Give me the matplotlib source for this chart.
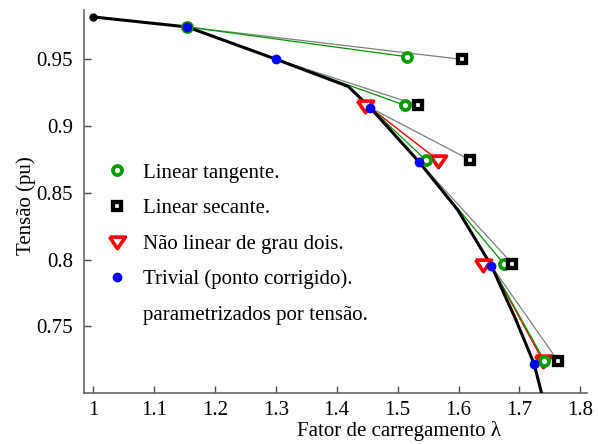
import matplotlib
matplotlib.use("Agg")
import matplotlib.pyplot as plt
from matplotlib.lines import Line2D
from matplotlib.markers import MarkerStyle

plt.rcParams['font.family'] = ['Liberation Serif', 'DejaVu Serif']

# ---- data ----
curve_lambda = [1.000, 1.1545, 1.301, 1.419, 1.455, 1.535, 1.599, 1.654, 1.6945, 1.724, 1.738]
curve_v = [0.9818, 0.9743, 0.950, 0.9297, 0.9138, 0.8733, 0.837, 0.7953, 0.7546, 0.722, 0.697]

start_lambda = [1.000]
start_v = [0.9818]

# corrected points (trivial)
corr_lambda = [1.1545, 1.301, 1.455, 1.535, 1.654, 1.724]
corr_v = [0.9743, 0.950, 0.9138, 0.8733, 0.7953, 0.722]

# all base points (initial + corrected)
base_lambda = start_lambda + corr_lambda
base_v = start_v + corr_v

# linear tangent predictions, source index into base points
tan_lambda = [1.1545, 1.515, 1.512, 1.546, 1.674, 1.741]
tan_v = [0.9743, 0.952, 0.9156, 0.8746, 0.797, 0.7243]
tan_src = [0, 1, 2, 3, 4, 5]

# linear secant predictions
sec_lambda = [1.606, 1.534, 1.619, 1.688, 1.763]
sec_v = [0.950, 0.9156, 0.8746, 0.797, 0.7243]
sec_src = [1, 2, 3, 4, 5]

# quadratic predictions
quad_lambda = [1.446, 1.566, 1.640, 1.738]
quad_v = [0.9158, 0.8746, 0.797, 0.7246]
quad_src = [None, 3, None, 5]

labels = ["Linear tangente.", "Linear secante.", "Não linear de grau dois.",
          "Trivial (ponto corrigido).", "parametrizados por tensão."]

xticks = [1, 1.1, 1.2, 1.3, 1.4, 1.5, 1.6, 1.7, 1.8]
xticklabels = ["1", "1.1", "1.2", "1.3", "1.4", "1.5", "1.6", "1.7", "1.8"]
yticks = [0.75, 0.8, 0.85, 0.9, 0.95]
yticklabels = ["0.75", "0.8", "0.85", "0.9", "0.95"]

GREEN = (0, 0.6, 0)
FS = 15
TRI = MarkerStyle([(-1, 0.55), (1, 0.55), (0, -0.9), (-1, 0.55)], joinstyle='miter')

fig = plt.figure(figsize=(5.98, 4.44), dpi=100)
ax = fig.add_axes([84/598, 1-393/444, (587-84)/598, (393-10)/444])

# predictor segments
for lx, vy, s in zip(sec_lambda, sec_v, sec_src):
    ax.plot([base_lambda[s], lx], [base_v[s], vy], color='0.5', lw=0.9, zorder=2)
for lx, vy, s in zip(quad_lambda, quad_v, quad_src):
    if s is not None:
        ax.plot([base_lambda[s], lx], [base_v[s], vy], color='red', lw=1.0, zorder=2)
for lx, vy, s in zip(tan_lambda, tan_v, tan_src):
    ax.plot([base_lambda[s], lx], [base_v[s], vy], color=GREEN, lw=0.9, zorder=2.5)

ax.plot(curve_lambda, curve_v, color='black', lw=2.2, zorder=3)
ax.plot(start_lambda, start_v, 'o', color='black', ms=5, zorder=4)

h_quad, = ax.plot(quad_lambda, quad_v, marker=TRI, ls='none', mfc='white', mec='red',
                  ms=11.5, mew=2.6, zorder=5)
h_tan, = ax.plot(tan_lambda, tan_v, 'o', ls='none', mfc='white', mec=GREEN,
                 ms=6.5, mew=2.7, zorder=6)
h_sec, = ax.plot(sec_lambda, sec_v, 's', ls='none', mfc='white', mec='black',
                 ms=6.2, mew=3.1, zorder=7)
h_cor, = ax.plot(corr_lambda, corr_v, 'o', ls='none', color='blue', ms=6, zorder=8)
h_blank = Line2D([], [], ls='none', marker='none')

leg = ax.legend([h_tan, h_sec, h_quad, h_cor, h_blank], labels, loc='upper left',
                bbox_to_anchor=(0.045, 0.600), frameon=False, fontsize=FS,
                handlelength=1.0, handletextpad=0.75, labelspacing=0.76,
                borderpad=0, borderaxespad=0)

ax.set_xlim(0.985, 1.811)
ax.set_ylim(0.7, 0.987)
ax.set_xticks(xticks)
ax.set_xticklabels(xticklabels)
ax.set_yticks(yticks)
ax.set_yticklabels(yticklabels)
ax.tick_params(direction='in', length=5, width=1, labelsize=FS, color='0.3')
ax.tick_params(axis='x', pad=6)
ax.tick_params(axis='y', pad=8)
for lab in ax.get_xticklabels() + ax.get_yticklabels():
    lab.set_fontfamily(['Liberation Serif', 'DejaVu Serif'])
for side in ['top', 'right']:
    ax.spines[side].set_visible(False)
for side in ['left', 'bottom']:
    ax.spines[side].set_color('0.4')
    ax.spines[side].set_linewidth(1.2)

ax.set_xlabel("Fator de carregamento λ", fontsize=FS)
ax.set_ylabel("Tensão (pu)", fontsize=FS)
ax.xaxis.set_label_coords(0.627, -0.074)
ax.yaxis.set_label_coords(-0.096, 0.49)

fig.savefig("out.png", dpi=100)
